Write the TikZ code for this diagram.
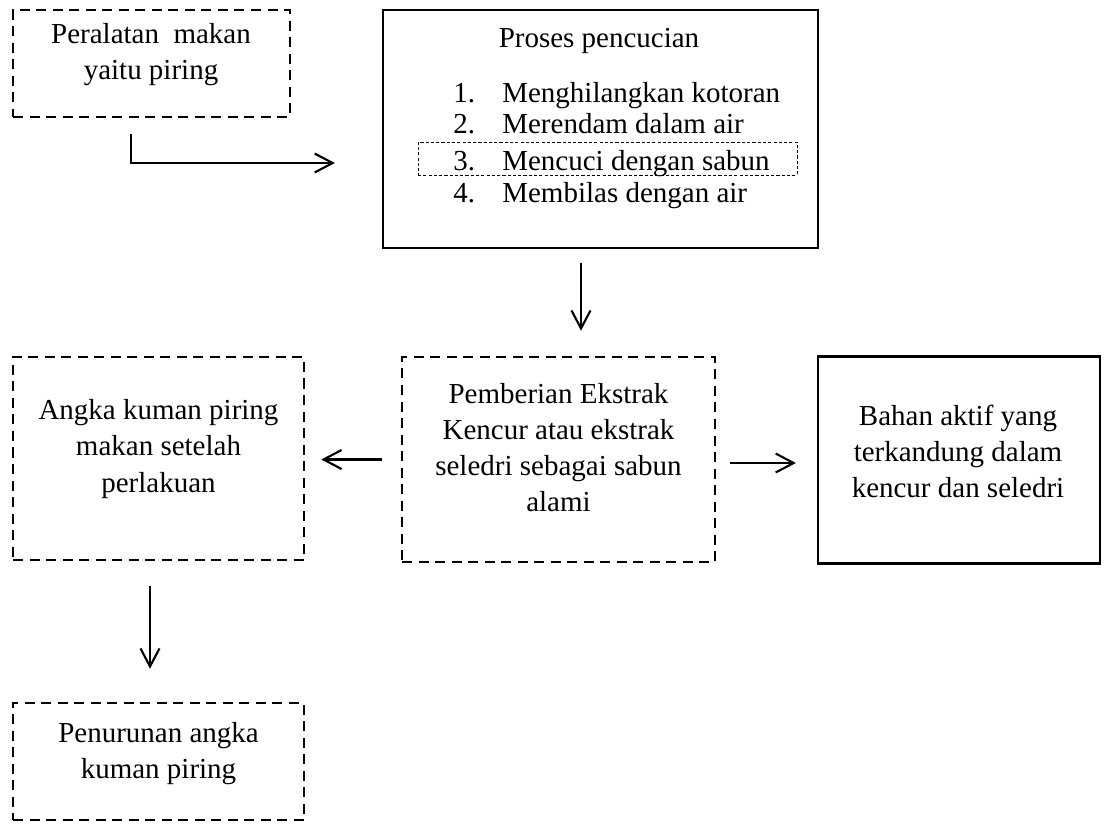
\documentclass[tikz,border=0pt]{standalone}
\usepackage{fontspec}
\setmainfont{Liberation Serif}
\usetikzlibrary{arrows.meta}

\tikzset{
  garis/.style={draw, dash pattern=on 5.7pt off 3.7pt, line width=1.5pt},
  kotak/.style={draw, line width=1.3pt},
  tipis/.style={draw, dash pattern=on 1.8pt off 1.2pt, line width=0.4pt},
  panah/.style={-{Straight Barb[length=3.6mm,width=3.8mm]}, line width=1.2pt},
}

\begin{document}
\begin{tikzpicture}[x=0.02cm, y=-0.02cm, font=\fontsize{16.5}{20.5}\selectfont]
    \useasboundingbox (0,0) rectangle (1107,823);

    % 箱を描く
    \node[garis, minimum width=5.54cm, minimum height=2.14cm] (alat) at (151.5, 63.5) {};
    \node[kotak, minimum width=8.7cm, minimum height=4.76cm] (proses) at (600.5, 129) {};
    \node[tipis, minimum width=7.58cm, minimum height=0.66cm] (sabun) at (607.5, 158.5) {};
    \node[garis, minimum width=6.26cm, minimum height=4.1cm] (ekstrak) at (558.5, 459.5) {};
    \node[kotak, minimum width=5.64cm, minimum height=4.14cm] (bahan) at (959, 460) {};
    \node[garis, minimum width=5.82cm, minimum height=4.06cm] (angka) at (158.5, 458.5) {};
    \node[garis, minimum width=5.82cm, minimum height=2.34cm] (turun) at (158.5, 761.5) {};

    % 線を引く
    \draw[panah] ([xshift=-0.41cm, yshift=-0.32cm]alat.south) |- ([xshift=-0.94cm, yshift=-0.68cm]proses.west);
    \draw[panah, shorten <=0.28cm, shorten >=0.5cm] ([xshift=-0.39cm]proses.south) -- ([xshift=-0.39cm]proses.south |- ekstrak.north);
    \draw[panah, shorten <=0.38cm, shorten >=0.32cm] (ekstrak.west) -- (ekstrak.west -| angka.east);
    \draw[panah, shorten <=0.28cm, shorten >=0.42cm] ([yshift=-0.07cm]ekstrak.east) -- ([yshift=-0.07cm]ekstrak.east -| bahan.west);
    \draw[panah, shorten <=0.5cm, shorten >=0.66cm] ([xshift=-0.17cm]angka.south) -- ([xshift=-0.17cm]turun.north);

    % 文字を入れる
    \node[align=center] (talat) at (151, 54.5) {Peralatan\ \ makan\\yaitu piring};
    \node[anchor=base] (tproses) at (599, 47) {Proses pencucian};
    \node[anchor=base west, inner sep=0pt] (n1) at (453, 102) {1.};
    \node[anchor=base west, inner sep=0pt] (n2) at (453, 133) {2.};
    \node[anchor=base west, inner sep=0pt] (n3) at (453, 170) {3.};
    \node[anchor=base west, inner sep=0pt] (n4) at (453, 202) {4.};
    \node[anchor=base west, inner sep=0pt] (m1) at (502, 102) {Menghilangkan kotoran};
    \node[anchor=base west, inner sep=0pt] (m2) at (502, 133) {Merendam dalam air};
    \node[anchor=base west, inner sep=0pt] (m3) at (502, 170) {Mencuci dengan sabun};
    \node[anchor=base west, inner sep=0pt] (m4) at (502, 202) {Membilas dengan air};
    \node[align=center] (tekstrak) at (558.5, 448) {Pemberian Ekstrak\\Kencur atau ekstrak\\seledri sebagai sabun\\alami};
    \node[align=center] (tbahan) at (958, 451) {Bahan aktif yang\\terkandung dalam\\kencur dan seledri};
    \node[align=center] (tangka) at (158.5, 449) {Angka kuman piring\\makan setelah\\perlakuan};
    \node[align=center] (tturun) at (158.5, 753.5) {Penurunan angka\\kuman piring};
  \end{tikzpicture}
\end{document}
